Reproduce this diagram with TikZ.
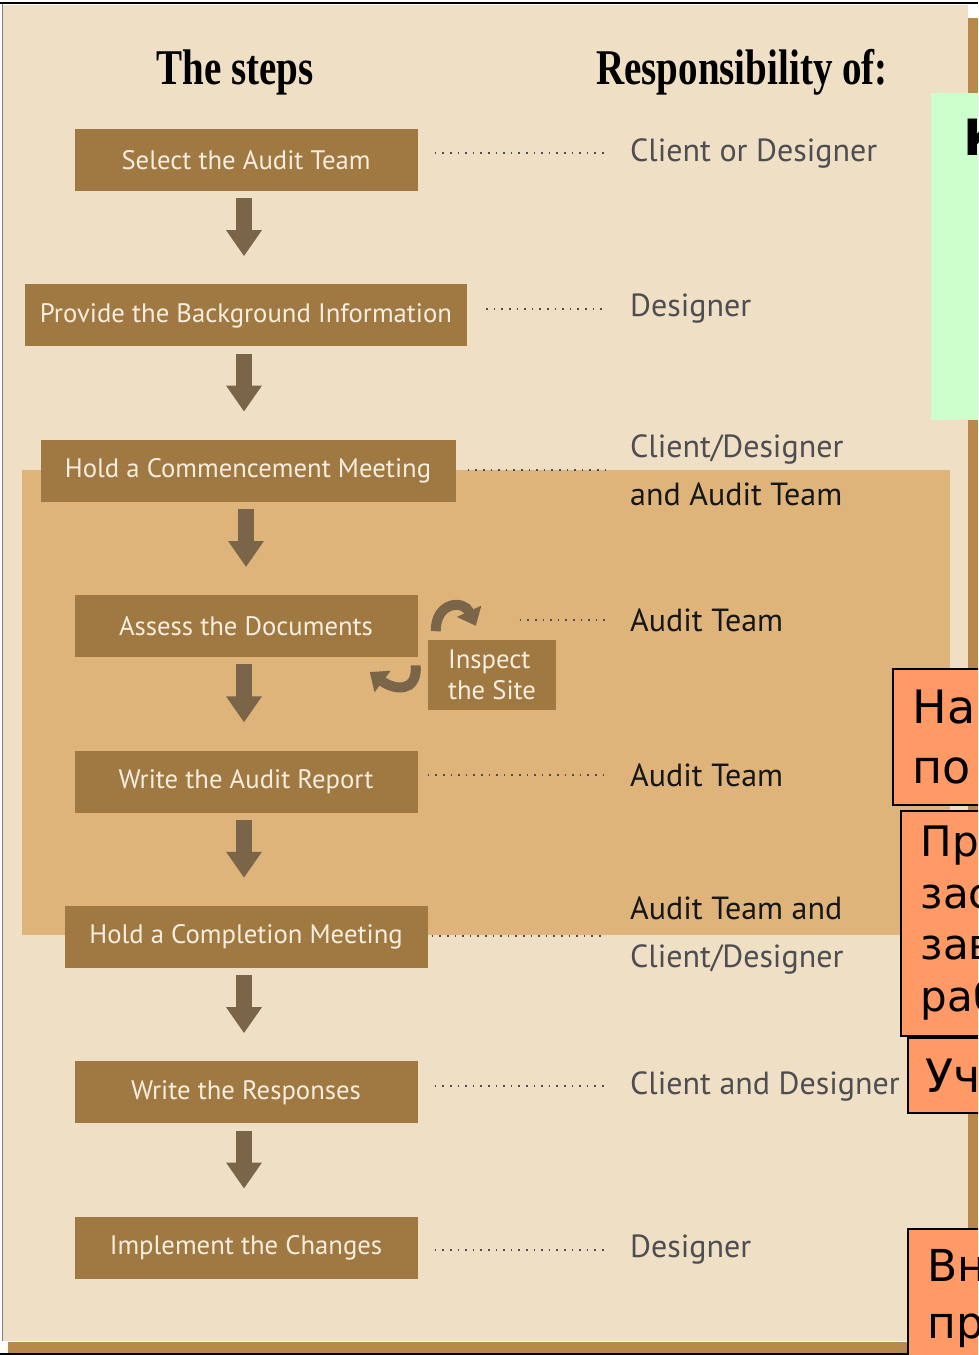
\documentclass[tikz,border=0pt]{standalone}
\usepackage{fontspec}
\setmainfont{PT Sans}
\newfontfamily\headfont[FakeStretch=0.78]{Liberation Serif}
\newfontfamily\notefont{DejaVu Sans}
\usetikzlibrary{positioning,calc,arrows.meta}

\definecolor{pagebeige}{HTML}{EFDFC5}
\definecolor{zonetan}{HTML}{DFB47B}
\definecolor{stepbrown}{HTML}{A07942}
\definecolor{stepcream}{HTML}{F7EEDF}
\definecolor{arrowgray}{HTML}{7A6548}
\definecolor{stripbrown}{HTML}{B8894A}
\definecolor{respgray}{HTML}{4D4D52}
\definecolor{respblack}{HTML}{161616}
\definecolor{notegreen}{HTML}{CCFFCC}
\definecolor{notepeach}{HTML}{FF9966}

\begin{document}
\begin{tikzpicture}[x=1pt, y=-1pt, node distance=93pt,
  stepbox/.style={fill=stepbrown, text=stepcream, minimum width=343pt, minimum height=62pt, inner sep=0pt, font=\fontsize{26.7}{31}\selectfont},
  resp/.style={anchor=west, text=respgray, inner sep=0pt, align=left, font=\fontsize{32}{48}\selectfont},
  dotline/.style={draw=respgray, line width=1.6pt, dash pattern=on 1.6pt off 6pt},
  blockarrow/.style={draw=arrowgray, line width=16pt, -{Triangle[length=26pt, width=34pt]}},
  swoop/.style={draw=arrowgray, line width=10pt, -{Triangle[length=16pt, width=26pt]}},
  notebox/.style={draw=black, line width=1.5pt, fill=notepeach, anchor=north west, text width=200pt, align=left, inner xsep=20pt, inner ysep=0pt}]
\clip (0,0) rectangle (978,1355);
\fill[white] (0,0) rectangle (978,1355);
\fill[stripbrown] (968,18) rectangle (978,1355);
\fill[stripbrown] (8,1342) rectangle (968,1353);
\fill[pagebeige] (3,5) rectangle (968,1341);
\draw[black, line width=2pt] (0,2.5) -- (978,2.5);
\draw[black, line width=2pt] (0,1354) -- (978,1354);
\draw[gray, line width=1pt] (2,4) -- (2,1341);
\fill[zonetan] (22,470) rectangle (950,935);

\node (hSteps) at (235,72) {\headfont\bfseries\fontsize{50}{50}\selectfont The steps};
\node (hResp) at (742,72) {\headfont\bfseries\fontsize{50}{50}\selectfont Responsibility of:};

\node (sel) [stepbox] at (246,160) {Select the Audit Team};
\node (bg) [stepbox, below=of sel, minimum width=442pt] {Provide the Background Information};
\node (comm) [stepbox, below=of bg, minimum width=415pt, xshift=2pt] {Hold a Commencement Meeting};
\node (assess) [stepbox, below=of comm, xshift=-2pt] {Assess the Documents};
\node (report) [stepbox, below=of assess] {Write the Audit Report};
\node (compl) [stepbox, below=of report, minimum width=363pt] {Hold a Completion Meeting};
\node (resp) [stepbox, below=of compl] {Write the Responses};
\node (impl) [stepbox, below=of resp] {Implement the Changes};
\node (inspect) [stepbox, minimum width=128pt, minimum height=70pt, align=left] at (492,675) {Inspect\\the Site};

\node (rSel) [resp] at (630,153) {Client or Designer};
\node (rBg) [resp] at (630,309) {Designer};
\node (rComm) [resp] at (630,470) {Client/Designer\\\textcolor{respblack}{and Audit Team}};
\node (rAssess) [resp, text=respblack] at (630,620) {Audit Team};
\node (rReport) [resp, text=respblack] at (630,775) {Audit Team};
\node (rCompl) [resp, text=respblack] at (630,936) {Audit Team and\\\textcolor{respgray}{Client/Designer}};
\node (rResp) [resp] at (630,1086) {Client and Designer};
\node (rImpl) [resp] at (630,1250) {Designer};

\foreach \a/\b in {sel/bg, bg/comm, comm/assess, assess/report, report/compl, compl/resp, resp/impl}
  \draw[blockarrow] ($(\a.south)+(-2,7)$) -- ($(\a.south |- \b.north)+(-2,-28)$);

\draw[swoop] ($(assess.east)+(18,5)$) .. controls +(0,-30) and +(-12,-26) .. ($(inspect.north west)+(48,-14)$);
\draw[swoop] ($(assess.south east)+(-2,8)$) .. controls +(2,28) and +(24,18) .. ($(inspect.west)+(-58,-3)$);

\foreach \b/\r/\gap in {sel/rSel/17, bg/rBg/19, comm/rComm/12, report/rReport/10, compl/rCompl/4, resp/rResp/17, impl/rImpl/17}
  \draw[dotline] ($(\b.east |- \r.west)+(\gap,0)$) -- ($(\r.west)+(-24,0)$);
\draw[dotline] ($(assess.east |- rAssess.west)+(102,0)$) -- ($(rAssess.west)+(-24,0)$);

\fill[notegreen] (931,93) rectangle (980,420);
\node (gNote) [anchor=base west, inner sep=0pt, font=\notefont\bfseries\fontsize{50}{50}\selectfont] at (963,155) {К};
\node (nA) [notebox, minimum height=136pt, font=\notefont\fontsize{46}{60}\selectfont] at (892,668) {На\\по};
\node (nB) [notebox, minimum height=225pt, font=\notefont\fontsize{42}{51.5}\selectfont] at (900,810) {Пр\\зас\\зав\\раб};
\node (nC) [notebox, minimum height=75pt, font=\notefont\fontsize{46}{56}\selectfont, inner xsep=18pt] at (907,1037) {Уч};
\node (nD) [notebox, minimum height=140pt, font=\notefont\fontsize{44}{57}\selectfont] at (907,1228) {Вн\\пр};
\end{tikzpicture}
\end{document}
